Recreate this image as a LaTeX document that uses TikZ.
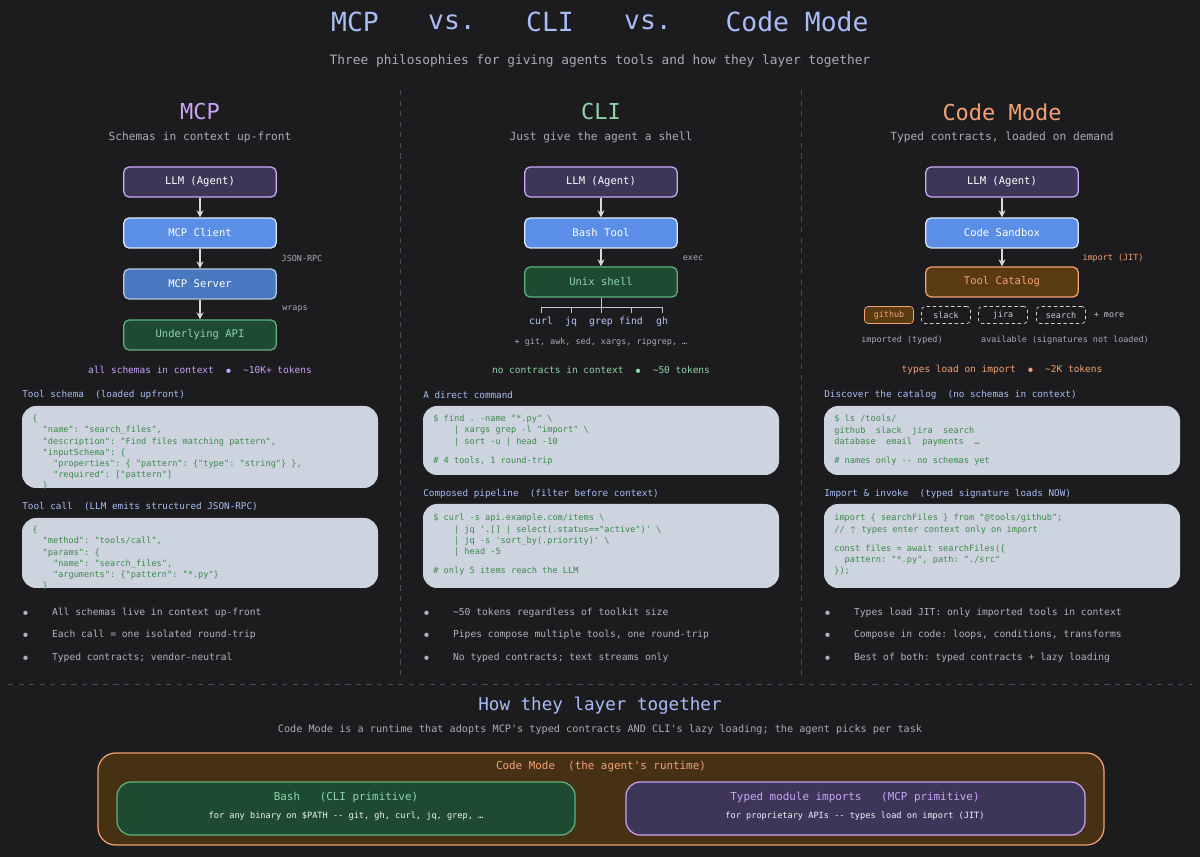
\documentclass[tikz,border=0pt]{standalone}
\usepackage{fontspec}
\setmonofont{DejaVu Sans Mono}
\renewcommand{\familydefault}{\ttdefault}
\usepackage{tikz}
\usetikzlibrary{arrows.meta,positioning}
\definecolor{bg}{HTML}{1C1C1E}
\definecolor{mcpc}{HTML}{C9A3F5}
\definecolor{clic}{HTML}{8FD4A8}
\definecolor{cmc}{HTML}{F2A274}
\definecolor{llmfill}{HTML}{3D3658}
\definecolor{bluefill}{HTML}{5B8EE6}
\definecolor{bluedark}{HTML}{4A78C0}
\definecolor{greenfill}{HTML}{1F4A32}
\definecolor{greenline}{HTML}{5FB37F}
\definecolor{orangefill}{HTML}{5A3A10}
\definecolor{codefill}{HTML}{CDD3DF}
\definecolor{codetext}{HTML}{3B8A4A}
\definecolor{headc}{HTML}{A9BCF5}
\definecolor{greyc}{HTML}{A8ACB8}
\definecolor{sepc}{HTML}{4A4C55}
\newcommand{\fs}[1]{\fontsize{#1}{#1}\selectfont}
\newcommand{\sk}{\ \ }
\newcommand{\dotb}{{\fs{4}$\bullet$}}
\tikzset{
  box/.style={draw, rounded corners=3pt, line width=0.7pt, minimum width=3.05cm, minimum height=0.6cm, font=\fs{6}},
  llm/.style={box, fill=llmfill, draw=mcpc!90, text=white},
  client/.style={box, fill=bluefill, draw=white!80!bluefill, text=white},
  server/.style={box, fill=bluedark, draw=white!60!bluedark, text=white},
  api/.style={box, fill=greenfill, draw=greenline, text=clic},
  catalog/.style={box, fill=orangefill, draw=cmc, text=cmc},
  flow/.style={-{Stealth[length=4pt,width=4pt]}, draw=white!85!black, line width=0.6pt},
  side/.style={font=\fs{4.8}, text=greyc},
  code/.style={font=\fontsize{4.9}{6.3}\selectfont, text=codetext, align=left, anchor=north west, inner sep=0pt},
  codebg/.style={fill=codefill, rounded corners=8pt},
  head/.style={font=\fs{5.3}, text=headc, anchor=west, inner sep=0pt},
  bullet/.style={font=\fs{5.5}, text=greyc!90!white, anchor=west, inner sep=0pt},
  chip/.style={draw, rounded corners=2pt, minimum width=0.98cm, minimum height=0.34cm, font=\fs{4.8}, inner sep=1pt},
}
\begin{document}
\begin{tikzpicture}[x=0.02cm,y=-0.02cm]
\fill[bg] (0,0) rectangle (1200,857);
\useasboundingbox (0,0) rectangle (1200,857);
% title
\node[font=\fs{15}, text=headc] (t1) at (355,22) {MCP};
\node[font=\fs{15}, text=headc] (t2) at (452,22) {vs.};
\node[font=\fs{15}, text=headc] (t3) at (550,22) {CLI};
\node[font=\fs{15}, text=headc] (t4) at (648,22) {vs.};
\node[font=\fs{15}, text=headc] (t5) at (797,22) {Code Mode};
\node[font=\fs{7.3}, text=greyc] (sub) at (600,61) {Three philosophies for giving agents tools and how they layer together};
% separators
\draw[sepc, dashed] (400,90) -- (400,680);
\draw[sepc, dashed] (801,90) -- (801,680);
\draw[sepc, dashed] (8,684) -- (1192,684);
% ---- MCP column
\node[font=\fs{12.5}, text=mcpc] (mcph) at (200,112) {MCP};
\node[font=\fs{6.4}, text=greyc] (mcps) at (200,137) {Schemas in context up-front};
\node[llm] (mllm) at (200,182) {LLM (Agent)};
\node[client] (mcli) at (200,233) {MCP Client};
\node[server] (msrv) at (200,284) {MCP Server};
\node[api] (mapi) at (200,335) {Underlying API};
\draw[flow] (mllm) -- (mcli);
\draw[flow] (mcli) -- (msrv);
\draw[flow] (msrv) -- (mapi);
\node[side] (jrpc) at (302,258) {JSON-RPC};
\node[side] (wrap) at (295,309) {wraps};
\node[font=\fs{5.4}, text=mcpc] (mtok) at (200,370) {all schemas in context\sk\dotb\sk\textasciitilde10K+ tokens};
\node[head] (mh1) at (22,395) {Tool schema\sk(loaded upfront)};
\fill[codebg] (22,406) rectangle (378,488);
\node[code] (mc1) at (32,415) {\{\\
\sk"name": "search\_files",\\
\sk"description": "Find files matching pattern",\\
\sk"inputSchema": \{\\
\sk\sk"properties": \{ "pattern": \{"type": "string"\} \},\\
\sk\sk"required": ["pattern"]\\
\sk\}};
\node[head] (mh2) at (22,507) {Tool call\sk(LLM emits structured JSON-RPC)};
\fill[codebg] (22,518) rectangle (378,588);
\node[code] (mc2) at (32,526) {\{\\
\sk"method": "tools/call",\\
\sk"params": \{\\
\sk\sk"name": "search\_files",\\
\sk\sk"arguments": \{"pattern": "*.py"\}\\
\sk\}};
\foreach \yy/\txt in {613/All schemas live in context up-front, 635/Each call = one isolated round-trip, 658/Typed contracts; vendor-neutral}
  \node[bullet] at (22,\yy) {\dotb\ \ \ \ \txt};
% ---- CLI column
\node[font=\fs{12.5}, text=clic] (clih) at (601,112) {CLI};
\node[font=\fs{6.4}, text=greyc] (clis) at (601,137) {Just give the agent a shell};
\node[llm] (cllm) at (601,182) {LLM (Agent)};
\node[client] (cbash) at (601,233) {Bash Tool};
\node[api] (cunix) at (601,282) {Unix shell};
\draw[flow] (cllm) -- (cbash);
\draw[flow] (cbash) -- (cunix);
\node[side] (exec) at (693,258) {exec};
\coordinate (tj) at (601,307);
\draw[greyc!70, line width=0.5pt] (cunix) -- (tj);
\draw[greyc!70, line width=0.5pt] (541,307) -- (662,307);
\foreach \xx/\tn in {541/curl,571/jq,601/grep,631/find,662/gh}{
  \draw[greyc!70, line width=0.5pt] (\xx,307) -- (\xx,313);
  \node[font=\fs{5.6}, text=headc!85!white, anchor=base] (u\tn) at (\xx,325) {\tn};
}
\node[side] (more) at (601,342) {+ git, awk, sed, xargs, ripgrep, \dots};
\node[font=\fs{5.4}, text=clic] (ctok) at (601,370) {no contracts in context\sk\dotb\sk\textasciitilde50 tokens};
\node[head] (ch1) at (423,395) {A direct command};
\fill[codebg] (423,406) rectangle (779,475);
\node[code] (cc1) at (433,415) {\$ find . -name "*.py" \textbackslash\\
\sk\sk| xargs grep -l "import" \textbackslash\\
\sk\sk| sort -u | head -10\\[5pt]
\# 4 tools, 1 round-trip};
\node[head] (ch2) at (423,494) {Composed pipeline\sk(filter before context)};
\fill[codebg] (423,504) rectangle (779,588);
\node[code] (cc2) at (433,514) {\$ curl -s api.example.com/items \textbackslash\\
\sk\sk| jq '.[] | select(.status=="active")' \textbackslash\\
\sk\sk| jq -s 'sort\_by(.priority)' \textbackslash\\
\sk\sk| head -5\\[5pt]
\# only 5 items reach the LLM};
\foreach \yy/\txt in {613/\textasciitilde50 tokens regardless of toolkit size, 635/Pipes compose multiple tools{,} one round-trip, 658/No typed contracts; text streams only}
  \node[bullet] at (423,\yy) {\dotb\ \ \ \ \txt};
% ---- Code Mode column
\node[font=\fs{12.5}, text=cmc] (cmh) at (1002,112) {Code Mode};
\node[font=\fs{6.4}, text=greyc] (cms) at (1002,137) {Typed contracts, loaded on demand};
\node[llm] (kllm) at (1002,182) {LLM (Agent)};
\node[client] (ksbx) at (1002,233) {Code Sandbox};
\node[catalog] (kcat) at (1002,282) {Tool Catalog};
\draw[flow] (kllm) -- (ksbx);
\draw[flow] (ksbx) -- (kcat);
\node[side, text=cmc] (jit) at (1113,258) {import (JIT)};
\node[chip, fill=orangefill, draw=cmc, text=cmc] (gh) at (889,315) {github};
\foreach \xx/\tn in {946/slack,1003/jira,1061/search}
  \node[chip, dash pattern=on 2pt off 1.5pt, draw=greyc!55, text=greyc!60] (k\tn) at (\xx,315) {\tn};
\node[side, text=greyc!70, right=1pt of ksearch] (kmore) {+ more};
\node[side] (imp) at (902,340) {imported (typed)};
\node[side] (avl) at (1065,340) {available (signatures not loaded)};
\node[font=\fs{5.4}, text=cmc] (ktok) at (1002,370) {types load on import\sk\dotb\sk\textasciitilde2K tokens};
\node[head] (kh1) at (824,395) {Discover the catalog\sk(no schemas in context)};
\fill[codebg] (824,406) rectangle (1180,475);
\node[code] (kc1) at (834,415) {\$ ls /tools/\\
github\sk slack\sk jira\sk search\\
database\sk email\sk payments\sk \dots\\[5pt]
\# names only -- no schemas yet};
\node[head] (kh2) at (824,494) {Import \& invoke\sk(typed signature loads NOW)};
\fill[codebg] (824,504) rectangle (1180,588);
\node[code] (kc2) at (834,514) {import \{ searchFiles \} from "@tools/github";\\
// $\uparrow$ types enter context only on import\\[5pt]
const files = await searchFiles(\{\\
\sk pattern: "*.py", path: "./src"\\
\});};
\foreach \yy/\txt in {613/Types load JIT: only imported tools in context, 635/Compose in code: loops{,} conditions{,} transforms, 658/Best of both: typed contracts + lazy loading}
  \node[bullet] at (824,\yy) {\dotb\ \ \ \ \txt};
% ---- layering
\node[font=\fs{10}, text=headc] (lay) at (600,706) {How they layer together};
\node[font=\fs{5.8}, text=greyc] (lays) at (600,730) {Code Mode is a runtime that adopts MCP's typed contracts AND CLI's lazy loading; the agent picks per task};
\draw[cmc, fill=orangefill!70!bg, rounded corners=10pt, line width=0.7pt] (98,753) rectangle (1104,845);
\node[font=\fs{6.2}, text=cmc] (rt) at (601,767) {Code Mode\sk(the agent's runtime)};
\draw[greenline, fill=greenfill, rounded corners=8pt, line width=0.7pt] (117,782) rectangle (575,835);
\node[font=\fs{6.2}, text=clic] (bash) at (346,797) {Bash\ \ \ (CLI primitive)};
\node[font=\fs{4.9}, text=white!85!clic] (bashs) at (346,816) {for any binary on \$PATH -- git, gh, curl, jq, grep, \dots};
\draw[mcpc, fill=llmfill, rounded corners=8pt, line width=0.7pt] (626,782) rectangle (1085,835);
\node[font=\fs{6.2}, text=mcpc] (typ) at (855,797) {Typed module imports\ \ \ (MCP primitive)};
\node[font=\fs{4.9}, text=white!85!mcpc] (typs) at (855,816) {for proprietary APIs -- types load on import (JIT)};
\end{tikzpicture}
\end{document}
